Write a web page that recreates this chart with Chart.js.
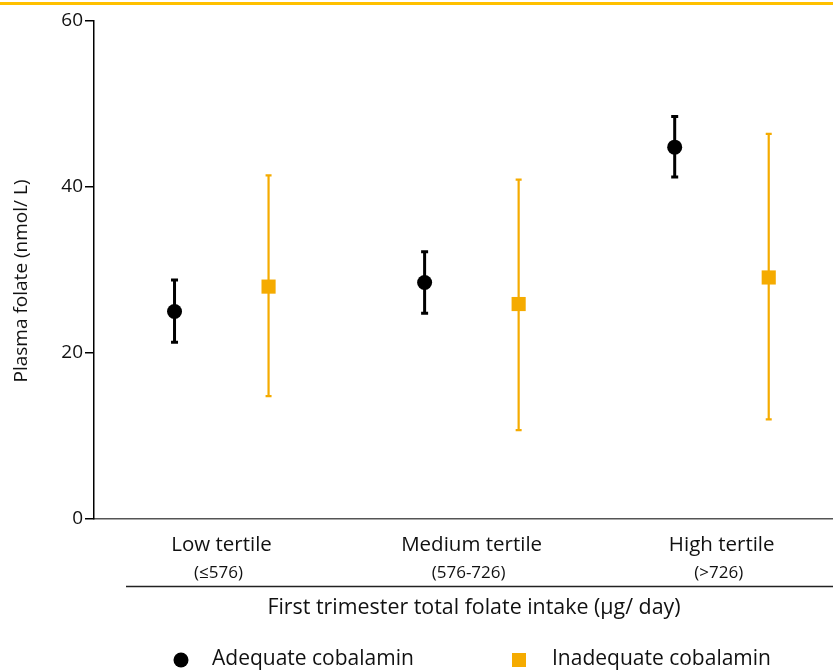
<!DOCTYPE html>
<html>
<head>
<meta charset="utf-8">
<script src="https://cdn.jsdelivr.net/npm/chart.js@4.4.1/dist/chart.umd.min.js"></script>
<style>
  html, body { margin: 0; padding: 0; background: #fff; }
  #wrap { position: relative; width: 833px; height: 672px; overflow: hidden; }
  #topline { position: absolute; left: 0; top: 2px; width: 833px; height: 3px; background: #FFC000; }
  canvas { position: absolute; left: 0; top: 0; }
</style>
</head>
<body>
<div id="wrap">
  <canvas id="c" width="833" height="672"></canvas>
  <div id="topline"></div>
</div>
<script>
// ---- Data ----
const categories = ['Low tertile', 'Medium tertile', 'High tertile'];
const ranges = ['(\u2264576)', '(576-726)', '(>726)'];
const adequateMean = [25.0, 28.5, 44.8];
const adequateLow  = [21.3, 24.8, 41.2];
const adequateHigh = [28.8, 32.2, 48.5];
const inadequateMean = [28.0, 25.9, 29.1];
const inadequateLow  = [14.8, 10.7, 12.0];
const inadequateHigh = [41.4, 40.9, 46.4];
const yTicks = [0, 20, 40, 60];
const yTitle = 'Plasma folate (nmol/ L)';
const xTitle = 'First trimester total folate intake (\u00b5g/ day)';
const seriesNames = ['Adequate cobalamin', 'Inadequate cobalamin'];

const BLACK = '#000000';
const ORANGE = '#F5AB00';
const FONT = '"Open Sans", sans-serif';
const OFFSET = 0.188;

function pts(means, lows, highs, off) {
  return means.map((m, i) => ({ x: i + off, y: m, lo: lows[i], hi: highs[i] }));
}

const errorBars = {
  id: 'errorBars',
  beforeDatasetsDraw(chart) {
    const ctx = chart.ctx;
    const ys = chart.scales.y;
    chart.data.datasets.forEach((ds, di) => {
      const meta = chart.getDatasetMeta(di);
      ctx.save();
      ctx.strokeStyle = ds.borderColor;
      ctx.lineWidth = ds.errWidth;
      ctx.lineCap = 'butt';
      meta.data.forEach((el, i) => {
        const d = ds.data[i];
        const x = el.x;
        const yLo = ys.getPixelForValue(d.lo);
        const yHi = ys.getPixelForValue(d.hi);
        ctx.beginPath();
        ctx.moveTo(x, yLo); ctx.lineTo(x, yHi);
        ctx.moveTo(x - ds.capHalf, yLo); ctx.lineTo(x + ds.capHalf, yLo);
        ctx.moveTo(x - ds.capHalf, yHi); ctx.lineTo(x + ds.capHalf, yHi);
        ctx.stroke();
      });
      ctx.restore();
    });
  }
};

const decor = {
  id: 'decor',
  afterDraw(chart) {
    const ctx = chart.ctx;
    const xs = chart.scales.x;
    const area = chart.chartArea;
    ctx.save();
    ctx.fillStyle = '#111';
    ctx.textAlign = 'center';
    ctx.textBaseline = 'middle';
    // y title
    ctx.save();
    ctx.translate(22, 281);
    ctx.rotate(-Math.PI / 2);
    ctx.font = '19px ' + FONT;
    ctx.fillText(yTitle, 0, 0);
    ctx.restore();
    // category labels
    categories.forEach((c, i) => {
      const px = xs.getPixelForValue(i);
      ctx.font = '20.5px ' + FONT;
      ctx.fillText(c, px, area.bottom + 26);
      ctx.font = '17px ' + FONT;
      ctx.fillText(ranges[i], px - 3, area.bottom + 54);
    });
    // separator line
    ctx.strokeStyle = '#222';
    ctx.lineWidth = 1.5;
    ctx.beginPath();
    ctx.moveTo(126, area.bottom + 67.5);
    ctx.lineTo(area.right, area.bottom + 67.5);
    ctx.stroke();
    // x title
    ctx.font = '21.4px ' + FONT;
    ctx.fillText(xTitle, 474, area.bottom + 89);
    // legend
    const ly = 660;
    ctx.textAlign = 'left';
    const ds = chart.data.datasets;
    ctx.fillStyle = ds[0].backgroundColor;
    ctx.beginPath();
    ctx.arc(181, ly, 7.5, 0, Math.PI * 2);
    ctx.fill();
    ctx.fillStyle = '#111';
    ctx.font = '21px ' + FONT;
    ctx.fillText(ds[0].label, 212, ly - 1);
    ctx.fillStyle = ds[1].backgroundColor;
    ctx.fillRect(512, ly - 7, 14, 14);
    ctx.fillStyle = '#111';
    ctx.fillText(ds[1].label, 552, ly - 1);
    ctx.restore();
  }
};

new Chart(document.getElementById('c'), {
  type: 'scatter',
  data: {
    datasets: [
      {
        label: seriesNames[0],
        data: pts(adequateMean, adequateLow, adequateHigh, -OFFSET),
        backgroundColor: BLACK, borderColor: BLACK,
        pointStyle: 'circle', pointRadius: 7.5, pointBorderWidth: 0,
        errWidth: 3, capHalf: 3.5
      },
      {
        label: seriesNames[1],
        data: pts(inadequateMean, inadequateLow, inadequateHigh, OFFSET),
        backgroundColor: ORANGE, borderColor: ORANGE,
        pointStyle: 'rect', pointRadius: 10, pointBorderWidth: 0,
        errWidth: 2.2, capHalf: 3
      }
    ]
  },
  options: {
    responsive: false,
    animation: false,
    events: [],
    layout: { autoPadding: false, padding: { top: 21, right: 0, left: 0, bottom: 0 } },
    plugins: { legend: { display: false }, tooltip: { enabled: false } },
    scales: {
      x: {
        type: 'linear',
        min: -0.51, max: 2.445,
        grid: { display: false },
        ticks: { display: false },
        border: { display: true, color: '#555', width: 1.5 },
        afterFit(s) { s.height = 153; }
      },
      y: {
        type: 'linear',
        min: 0, max: 60,
        afterBuildTicks(s) { s.ticks = yTicks.map(v => ({ value: v })); },
        grid: { display: true, drawOnChartArea: false, drawTicks: true, tickLength: 9, color: '#000', lineWidth: 1.5 },
        border: { display: true, color: '#000', width: 1.5 },
        ticks: { color: '#111', font: { family: FONT, size: 19 }, padding: 2 },
        title: { display: false },
        afterFit(s) { s.width = 94; }
      }
    }
  },
  plugins: [errorBars, decor]
});
</script>
</body>
</html>
